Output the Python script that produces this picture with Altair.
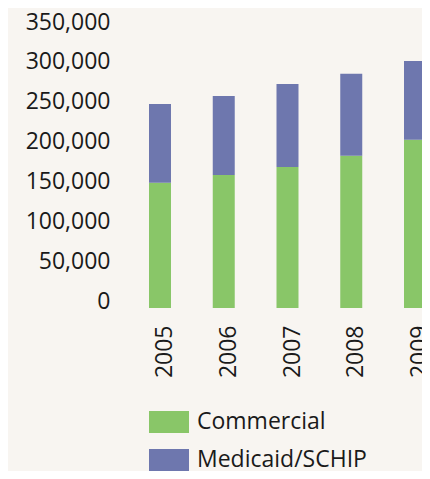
import altair as alt
import pandas as pd

years = ["2005", "2006", "2007", "2008", "2009"]
commercial = [157000, 167000, 177000, 191000, 211000]
medicaid = [99000, 99000, 104000, 103000, 99000]
series = ["Commercial", "Medicaid/SCHIP"]
colors = ["#89c668", "#6e77ae"]
y_ticks = [0, 50000, 100000, 150000, 200000, 250000, 300000, 350000]

rows = []
for i, yr in enumerate(years):
    rows.append({"year": yr, "series": series[0], "value": commercial[i], "ord": 0})
    rows.append({"year": yr, "series": series[1], "value": medicaid[i], "ord": 1})
df = pd.DataFrame(rows)

FONT = "Open Sans"
TXT = "#1a1a1a"

chart = (
    alt.Chart(df)
    .mark_bar()
    .encode(
        x=alt.X(
            "year:N",
            sort=years,
            title=None,
            scale=alt.Scale(paddingInner=0.655, paddingOuter=0, range=[0, 277]),
            axis=alt.Axis(
                labelAngle=-90,
                labelPadding=17,
                labelOffset=5,
                labelFontSize=23,
                labelFont=FONT,
                labelColor=TXT,
                domain=False,
                ticks=False,
                grid=False,
            ),
        ),
        y=alt.Y(
            "value:Q",
            stack="zero",
            title=None,
            scale=alt.Scale(domain=[0, 350000], nice=False),
            axis=alt.Axis(
                values=y_ticks,
                format=",.0f",
                labelBaseline="alphabetic",
                labelPadding=39,
                labelFontSize=23,
                labelFont=FONT,
                labelColor=TXT,
                domain=False,
                ticks=False,
                grid=False,
            ),
        ),
        color=alt.Color(
            "series:N",
            scale=alt.Scale(domain=series, range=colors),
            legend=alt.Legend(
                title=None,
                orient="none",
                legendX=0,
                legendY=373,
                symbolType="M-1,-0.55H1V0.55H-1Z",
                symbolSize=1600,
                symbolStrokeWidth=0,
                symbolOpacity=1,
                labelFontSize=23,
                labelFont=FONT,
                labelColor=TXT,
                labelOffset=8,
                labelLimit=300,
                rowPadding=6,
                padding=0,
            ),
        ),
        order=alt.Order("ord:Q"),
    )
    .properties(
        width=273,
        height=279,
        autosize=alt.AutoSizeParams(type="none"),
        padding={"left": 141, "top": 21, "right": 0, "bottom": 163},
    )
    .configure(background="#f8f5f1")
    .configure_view(stroke=None)
)

chart.save("out.html", embed_options={"renderer": "svg", "actions": False})
